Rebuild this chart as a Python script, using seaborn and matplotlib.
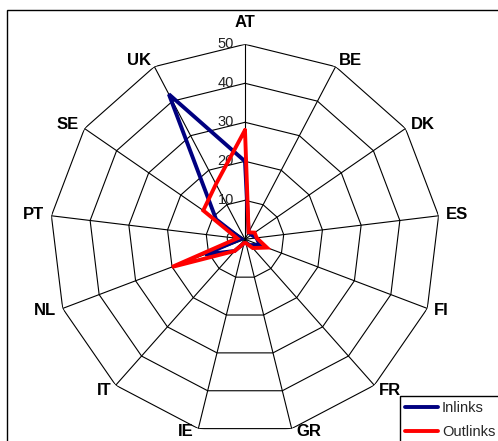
import numpy as np
import pandas as pd
import matplotlib
matplotlib.use("Agg")
import matplotlib.pyplot as plt
from matplotlib.patches import Rectangle
from matplotlib.lines import Line2D
import seaborn as sns

# Link counts per country
countries = ["AT", "BE", "DK", "ES", "FI", "FR", "GR", "IE", "IT", "NL", "PT", "SE", "UK"]
inlinks = [20, 2, 2, 3, 4, 2, 1, 1, 4, 11, 1, 9, 42]
outlinks = [28, 2, 3, 3, 6, 3, 1, 1, 4, 20, 2, 13, 16]
ring_ticks = [0, 10, 20, 30, 40, 50]
series_names = ["Inlinks", "Outlinks"]
series_colors = ["#000080", "#FF0000"]

sns.set_style("white")
plt.rcParams["font.family"] = ["Liberation Sans", "DejaVu Sans"]

n = len(countries)
theta = np.linspace(0, 2 * np.pi, n, endpoint=False)
theta_closed = np.append(theta, 2 * np.pi)

rows = []
for name, vals in zip(series_names, [inlinks, outlinks]):
    closed = list(vals) + [vals[0]]
    for i, (t, v) in enumerate(zip(theta_closed, closed)):
        rows.append({"series": name, "order": i, "theta": t, "value": v})
df = pd.DataFrame(rows)

fig = plt.figure(figsize=(4.98, 4.41), dpi=100)
ax = fig.add_axes([0.1004, 0.0152, 0.7831, 0.8844], projection="polar")
ax.set_theta_zero_location("N")
ax.set_theta_direction(-1)
ax.set_ylim(0, ring_ticks[-1])
ax.grid(False)
ax.spines["polar"].set_visible(False)
ax.set_xticks([])
ax.set_yticks([])
ax.patch.set_alpha(0)

# Polygonal web: rings and spokes
for r in ring_ticks[1:]:
    ax.plot(theta_closed, [r] * (n + 1), color="black", lw=0.8, zorder=1)
for t in theta:
    ax.plot([t, t], [0, ring_ticks[-1]], color="black", lw=0.8, zorder=1)

# Series
sns.lineplot(data=df, x="theta", y="value", hue="series", units="series",
             estimator=None, sort=False, palette=series_colors,
             hue_order=series_names, linewidth=2.8, legend=False, ax=ax, zorder=3)
for line in ax.lines[-2:]:
    line.set_solid_joinstyle("miter")
ax.set_xlabel("")
ax.set_ylabel("")
ax.set_ylim(0, ring_ticks[-1])

# Radial value labels along the first spoke
for r in ring_ticks:
    ax.annotate(str(r), xy=(0, r), xytext=(-11, 0), textcoords="offset pixels",
                ha="right", va="center", fontsize=10.5, color="#222222", zorder=2)

# Category labels
for t, lab in zip(theta, countries):
    s, c = np.sin(t), np.cos(t)
    ha = "left" if s > 0.2 else ("right" if s < -0.2 else "center")
    if c > 0.95:
        va, off = "bottom", (0, 14)
    elif c < -0.9:
        va, off = "top", (5 * np.sign(s), 5)
    else:
        va, off = "center", (7 * s, 7 * c)
    ax.annotate(lab, xy=(t, ring_ticks[-1]), xytext=off,
                textcoords="offset pixels", ha=ha, va=va,
                fontsize=12, fontweight="bold", color="black")

# Outer frame of the chart area
fig.patches.append(Rectangle((7 / 498, -0.1), 1.2, 1 - 10 / 441 + 0.1,
                             transform=fig.transFigure, fill=False,
                             edgecolor="black", lw=1.0, zorder=0))

handles = [Line2D([], [], color=c, lw=2.8) for c in series_colors]
leg = fig.legend(handles, series_names, loc="upper left",
                 bbox_to_anchor=(399.5 / 498, 1 - 396 / 441),
                 frameon=True, fancybox=False, shadow=False, fontsize=10.5,
                 handlelength=2.3, handletextpad=0.25, borderpad=0.35,
                 labelspacing=0.7, borderaxespad=0)
leg.get_frame().set_edgecolor("black")
leg.get_frame().set_linewidth(1.0)
leg.get_frame().set_alpha(1)

fig.savefig("out.png", dpi=100)
